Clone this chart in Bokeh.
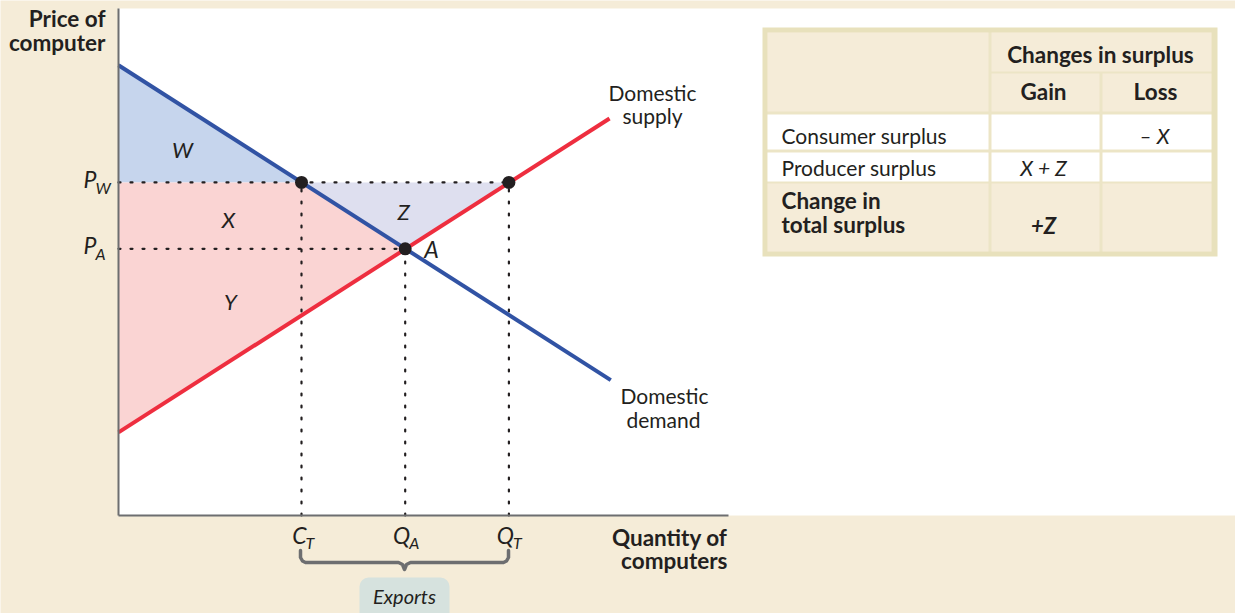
from bokeh.plotting import figure
from bokeh.models import Range1d, Label, BoxAnnotation, PolyAnnotation, LinearAxis, FixedTicker
from bokeh.embed import file_html
from bokeh.resources import INLINE

# ---------------- data ----------------
demand_q = [0.0, 8.07]
demand_p = [8.88, 2.67]
supply_q = [0.0, 8.05]
supply_p = [1.64, 7.83]

qty_names = ["C", "Q", "Q"]
qty_subs = ["T", "A", "T"]
qty_values = [3.0, 4.7, 6.4]          # C_T, Q_A, Q_T

price_names = ["P", "P"]
price_subs = ["W", "A"]
price_values = [6.57, 5.26]            # P_W, P_A

area_labels = ["W", "X", "Y", "Z"]

table_header = ["Changes in surplus", "Gain", "Loss"]
row_labels = ["Consumer surplus", "Producer surplus", "Change in\ntotal surplus"]
gain_col = ["", "X + Z", "+Z"]
loss_col = ["\u2013 X", "", ""]

# ---------------- style ----------------
BEIGE = "#f5ecd8"
TABLE_BORDER = "#e8e1bc"
TABLE_SEP = "#ece5c6"
INK = "#231f20"
AXIS = "#6d6e70"
BLUE = "#3153a4"
RED = "#ee2e3f"
W_FILL = "#c6d5ed"
PINK = "#fad4d3"
Z_FILL = "#dedfef"
FONT = "Lato"

W, H = 1235, 613
PX_X, PX_Y = 61.0, 50.7   # pixels per data unit


def rx(px):
    return (px - 118) / PX_X


def ry(py):
    return (515 - py) / PX_Y


p = figure(width=W, height=H, x_range=Range1d(rx(0), rx(W)), y_range=Range1d(ry(H), ry(0)),
           output_backend="svg", toolbar_location=None,
           x_axis_type=None, y_axis_type=None,
           min_border=0, min_border_left=0, min_border_right=0,
           min_border_top=0, min_border_bottom=0,
           background_fill_color=BEIGE, border_fill_color=BEIGE, outline_line_color=None)

# white drawing area
p.quad(left=[0], right=[rx(W)], bottom=[0], top=[ry(8)], fill_color="white", line_color=None)

for side in ("below", "left"):
    ax = LinearAxis(ticker=FixedTicker(ticks=[]), bounds=(0, ry(8)), fixed_location=0,
                    axis_line_color=AXIS, axis_line_width=2,
                    major_tick_line_color=None, minor_tick_line_color=None,
                    major_label_text_font_size="0px")
    if side == "below":
        ax.bounds = (0, 10)
    p.add_layout(ax, side)

CT, QA, QT = qty_values
PW, PA = price_values

# surplus areas
p.patch([0, CT, 0], [demand_p[0], PW, PW], fill_color=W_FILL, line_color=None)
p.patch([0, CT, QA, 0], [PW, PW, PA, supply_p[0]], fill_color=PINK, line_color=None)
p.patch([CT, QT, QA], [PW, PW, PA], fill_color=Z_FILL, line_color=None)

# dotted guides
dot = dict(line_color=INK, line_width=2.2, line_dash="2 10", line_cap="round")
p.line([0, QT], [PW, PW], **dot)
p.line([0, QA], [PA, PA], **dot)
p.segment(x0=qty_values, y0=[0, 0, 0], x1=qty_values, y1=[PW, PA, PW], **dot)

# curves
p.line(supply_q, supply_p, line_color=RED, line_width=4)
p.line(demand_q, demand_p, line_color=BLUE, line_width=4)
p.scatter([CT, QA, QT], [PW, PA, PW], size=13, fill_color=INK, line_color=None)


def lab(text, px, py, size=20, style="normal", align="left", color=INK):
    # py is the wanted baseline in picture pixels
    p.add_layout(Label(x=rx(px), y=ry(py - 0.37 * size), text=text, text_font=FONT,
                       text_font_size=f"{size}px", text_font_style=style,
                       text_align=align, text_baseline="alphabetic", text_color=color))


# axis titles
lab("Price of", 105, 26, 22.5, "bold", "right")
lab("computer", 105, 50, 22.5, "bold", "right")
lab("Quantity of", 727, 545, 22.5, "bold", "right")
lab("computers", 727, 568, 22.5, "bold", "right")

# price tick labels
for name, sub, val in zip(price_names, price_subs, price_values):
    py = 515 - val * PX_Y
    lab(name, 96, py + 5, 23, "italic", "right")
    lab(sub, 95, py + 11, 16, "italic", "left")

# quantity tick labels
for name, sub, val in zip(qty_names, qty_subs, qty_values):
    px = 118 + val * PX_X
    lab(name, px + 5, 543, 23, "italic", "right")
    lab(sub, px + 4, 548, 16, "italic", "left")

# area labels
for t, (px, py) in zip(area_labels, [(182, 157), (228, 227), (230, 309), (403, 219)]):
    lab(t, px, py, 22, "italic", "center")
lab("A", 431, 257, 23, "italic", "center")

# curve labels
lab("Domestic", 652, 100, 21, "normal", "center")
lab("supply", 652, 123, 21, "normal", "center")
lab("Domestic", 664, 403, 21, "normal", "center")
lab("demand", 663, 427, 21, "normal", "center")

# brace under exports
bx = [300, 300, 302, 305, 398, 402, 404, 406, 410, 503, 506, 508, 508]
by = [550, 557, 560.5, 562, 562, 564, 569, 564, 562, 562, 560.5, 557, 550]
bx = bx + bx[::-1]
by = by + by[::-1]
p.add_layout(PolyAnnotation(xs=[rx(v) for v in bx], ys=[ry(v) for v in by],
                            fill_color=None, fill_alpha=0, line_color=AXIS, line_alpha=1,
                            line_width=3.5, line_join="round"))
p.add_layout(BoxAnnotation(left=rx(359), right=rx(449), top=ry(577), bottom=ry(640),
                           fill_color="#d6e2de", fill_alpha=1, line_color=None,
                           border_radius=9))
lab("Exports", 404, 603, 20, "italic", "center")

# ---------------- table ----------------
p.quad(left=[rx(762)], right=[rx(1217)], top=[ry(27)], bottom=[ry(256)],
       fill_color=TABLE_BORDER, line_color=None)
p.quad(left=[rx(767)], right=[rx(1211)], top=[ry(32)], bottom=[ry(251)],
       fill_color=TABLE_SEP, line_color=None)
cells = [
    (767, 988, 32, 111, BEIGE), (991, 1211, 32, 71, BEIGE),
    (991, 1099, 73, 111, BEIGE), (1102, 1211, 73, 111, BEIGE),
    (767, 988, 114, 149, "white"), (991, 1099, 114, 149, "white"), (1102, 1211, 114, 149, "white"),
    (767, 988, 152, 181, "white"), (991, 1099, 152, 181, "white"), (1102, 1211, 152, 181, "white"),
    (767, 988, 183, 251, BEIGE), (991, 1099, 183, 251, BEIGE), (1102, 1211, 183, 251, BEIGE),
]
p.quad(left=[rx(c[0]) for c in cells], right=[rx(c[1]) for c in cells],
       top=[ry(c[2]) for c in cells], bottom=[ry(c[3]) for c in cells],
       fill_color=[c[4] for c in cells], line_color=None)

lab(table_header[0], 1100, 62, 22.5, "bold", "center")
lab(table_header[1], 1043, 99, 22.5, "bold", "center")
lab(table_header[2], 1155, 99, 22.5, "bold", "center")

row_base = [143, 175, 208]
for i, (name, g, l) in enumerate(zip(row_labels, gain_col, loss_col)):
    bold = i == 2
    for j, line in enumerate(name.split("\n")):
        lab(line, 781, row_base[i] + j * 24, 22.5 if bold else 21, "bold" if bold else "normal", "left")
    yb = row_base[i] + (25 if bold else 0)
    if g:
        lab(g, 1043, yb, 22 if bold else 21, "bold italic" if bold else "italic", "center")
    if l:
        lab(l, 1154, yb, 21, "bold italic" if bold else "italic", "center")

open("out.html", "w").write(file_html(p, INLINE))
